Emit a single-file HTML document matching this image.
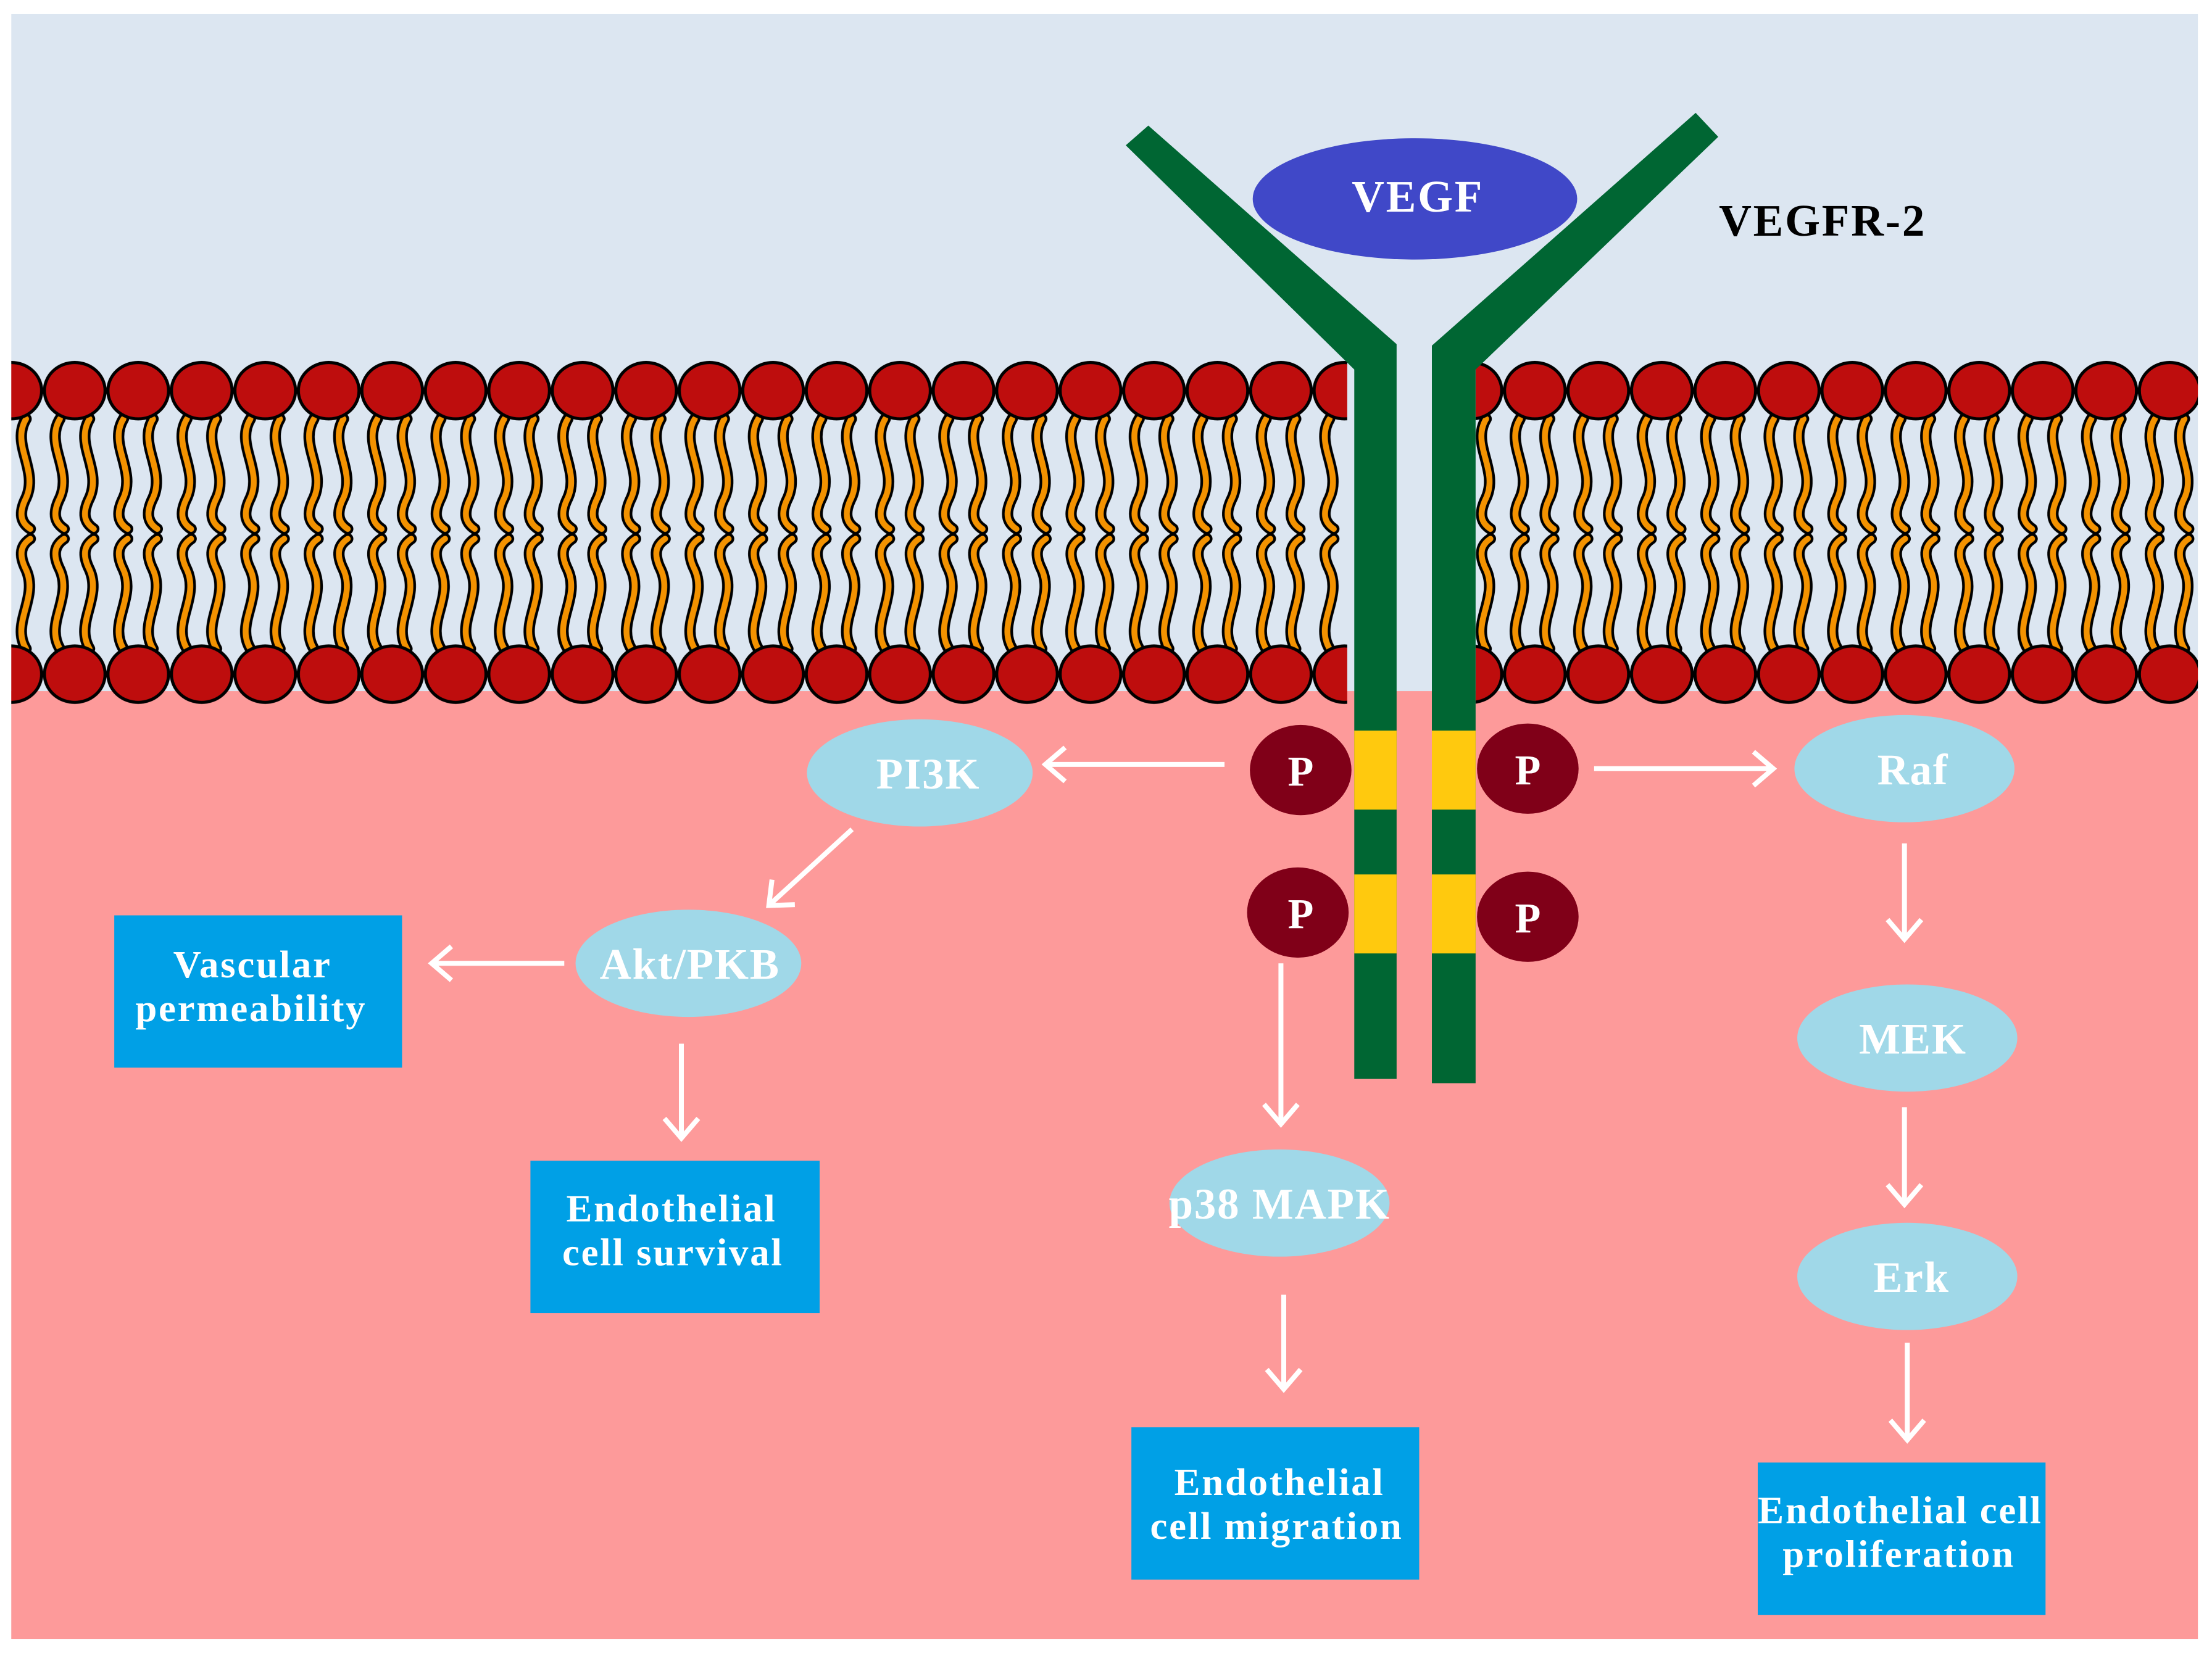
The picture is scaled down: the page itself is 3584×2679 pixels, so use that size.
<!DOCTYPE html>
<html><head><meta charset="utf-8"><style>html,body{margin:0;padding:0;background:#fff}svg{display:block}</style></head>
<body>
<svg width="3584" height="2679" viewBox="0 0 1568 1172" xmlns="http://www.w3.org/2000/svg">
<defs>
<g id="tail"><path d="M0,0 C-11,18 9,36 0,56 C-6,68 -3,74 3,78" fill="none" stroke="#000" stroke-width="8" stroke-linecap="round"/><path d="M0,0 C-11,18 9,36 0,56 C-6,68 -3,74 3,78" fill="none" stroke="#f39200" stroke-width="4.2" stroke-linecap="round"/></g>
<pattern id="lip" patternUnits="userSpaceOnUse" x="-14.5" y="255" width="45" height="260">
<use href="#tail" x="12" y="42"/><use href="#tail" x="33" y="42"/>
<use href="#tail" transform="translate(12,205) scale(1,-1)"/><use href="#tail" transform="translate(33,205) scale(1,-1)"/>
<ellipse cx="22.5" cy="22" rx="21.5" ry="20" fill="#be0d0d" stroke="#000" stroke-width="2.2"/>
<ellipse cx="22.5" cy="223" rx="21.5" ry="20" fill="#be0d0d" stroke="#000" stroke-width="2.2"/>
<ellipse cx="-22.5" cy="22" rx="21.5" ry="20" fill="#be0d0d" stroke="#000" stroke-width="2.2"/>
<ellipse cx="67.5" cy="22" rx="21.5" ry="20" fill="#be0d0d" stroke="#000" stroke-width="2.2"/>
<ellipse cx="-22.5" cy="223" rx="21.5" ry="20" fill="#be0d0d" stroke="#000" stroke-width="2.2"/>
<ellipse cx="67.5" cy="223" rx="21.5" ry="20" fill="#be0d0d" stroke="#000" stroke-width="2.2"/>
</pattern>
<g id="ah"><polyline points="-14,-12 0,0 -14,12" fill="none" stroke="#fff" stroke-width="3.5"/></g>
</defs>
<rect x="8" y="10" width="1550" height="1152" fill="#dce6f1"/>
<rect x="8" y="490" width="1550" height="672" fill="#fd9a9a"/>
<rect x="8" y="255" width="947" height="247" fill="url(#lip)"/>
<rect x="1046" y="255" width="512" height="247" fill="url(#lip)"/>
<polygon points="798,103 814,89 990,244 990,765 960,765 960,262" fill="#006633"/>
<polygon points="1218,97 1202,80 1015,245 1015,768 1046,768 1046,262" fill="#006633"/>
<rect x="960" y="518" width="30" height="56" fill="#ffc90e"/>
<rect x="960" y="620" width="30" height="56" fill="#ffc90e"/>
<rect x="1015" y="518" width="31" height="56" fill="#ffc90e"/>
<rect x="1015" y="620" width="31" height="56" fill="#ffc90e"/>
<ellipse cx="1003" cy="141" rx="115" ry="43" fill="#4048c8"/>
<g font-family="Liberation Serif, serif" font-weight="bold" text-anchor="middle">
<text x="1005" y="150" font-size="32" letter-spacing="1.2" fill="#fff">VEGF</text>
<text x="1292" y="167" font-size="32" letter-spacing="1.2" fill="#000">VEGFR-2</text>
<g fill="#800018">
<ellipse cx="922" cy="546" rx="36" ry="32"/><ellipse cx="1083" cy="545" rx="36" ry="32"/>
<ellipse cx="920" cy="647" rx="36" ry="32"/><ellipse cx="1083" cy="650" rx="36" ry="32"/>
</g>
<g fill="#fff" font-size="30">
<text x="922" y="557">P</text><text x="1083" y="556">P</text>
<text x="922" y="658">P</text><text x="1083" y="661">P</text>
</g>
<g fill="#a0d8e8">
<ellipse cx="652" cy="548" rx="80" ry="38"/><ellipse cx="1350" cy="545" rx="78" ry="38"/>
<ellipse cx="488" cy="683" rx="80" ry="38"/><ellipse cx="907" cy="853" rx="78" ry="38"/>
<ellipse cx="1352" cy="736" rx="78" ry="38"/><ellipse cx="1352" cy="905" rx="78" ry="38"/>
</g>
<g fill="#fff" font-size="31" letter-spacing="0.8">
<text x="658" y="559">PI3K</text><text x="1356" y="556">Raf</text>
<text x="489" y="694">Akt/PKB</text><text x="907" y="864">p38 MAPK</text>
<text x="1356" y="747">MEK</text><text x="1355" y="916">Erk</text>
</g>
<g fill="#00a0e6">
<rect x="81" y="649" width="204" height="108"/><rect x="376" y="823" width="205" height="108"/>
<rect x="802" y="1012" width="204" height="108"/><rect x="1246" y="1037" width="204" height="108"/>
</g>
<g fill="#fff" font-size="27.5" letter-spacing="1.2">
<text x="179" y="693">Vascular</text><text x="178" y="724">permeability</text>
<text x="476" y="866">Endothelial</text><text x="477" y="897">cell survival</text>
<text x="907" y="1060">Endothelial</text><text x="905" y="1091">cell migration</text>
<text x="1347" y="1080">Endothelial cell</text><text x="1346" y="1111">proliferation</text>
</g>
</g>
<g stroke="#fff" stroke-width="3.5" fill="none">
<line x1="868" y1="542" x2="742" y2="542"/><line x1="1130" y1="545" x2="1256" y2="545"/>
<line x1="604" y1="588" x2="546" y2="641"/><line x1="400" y1="683" x2="307" y2="683"/>
<line x1="483" y1="740" x2="483" y2="806"/><line x1="908" y1="683" x2="908" y2="796"/>
<line x1="910" y1="918" x2="910" y2="984"/><line x1="1350" y1="598" x2="1350" y2="665"/>
<line x1="1350" y1="785" x2="1350" y2="853"/><line x1="1352" y1="952" x2="1352" y2="1020"/>
</g>
<use href="#ah" transform="translate(741,542) rotate(180)"/>
<use href="#ah" transform="translate(1257,545)"/>
<use href="#ah" transform="translate(545,642) rotate(137.6)"/>
<use href="#ah" transform="translate(306,683) rotate(180)"/>
<use href="#ah" transform="translate(483,807) rotate(90)"/>
<use href="#ah" transform="translate(908,797) rotate(90)"/>
<use href="#ah" transform="translate(910,985) rotate(90)"/>
<use href="#ah" transform="translate(1350,666) rotate(90)"/>
<use href="#ah" transform="translate(1350,854) rotate(90)"/>
<use href="#ah" transform="translate(1352,1021) rotate(90)"/>
</svg>
</body></html>
